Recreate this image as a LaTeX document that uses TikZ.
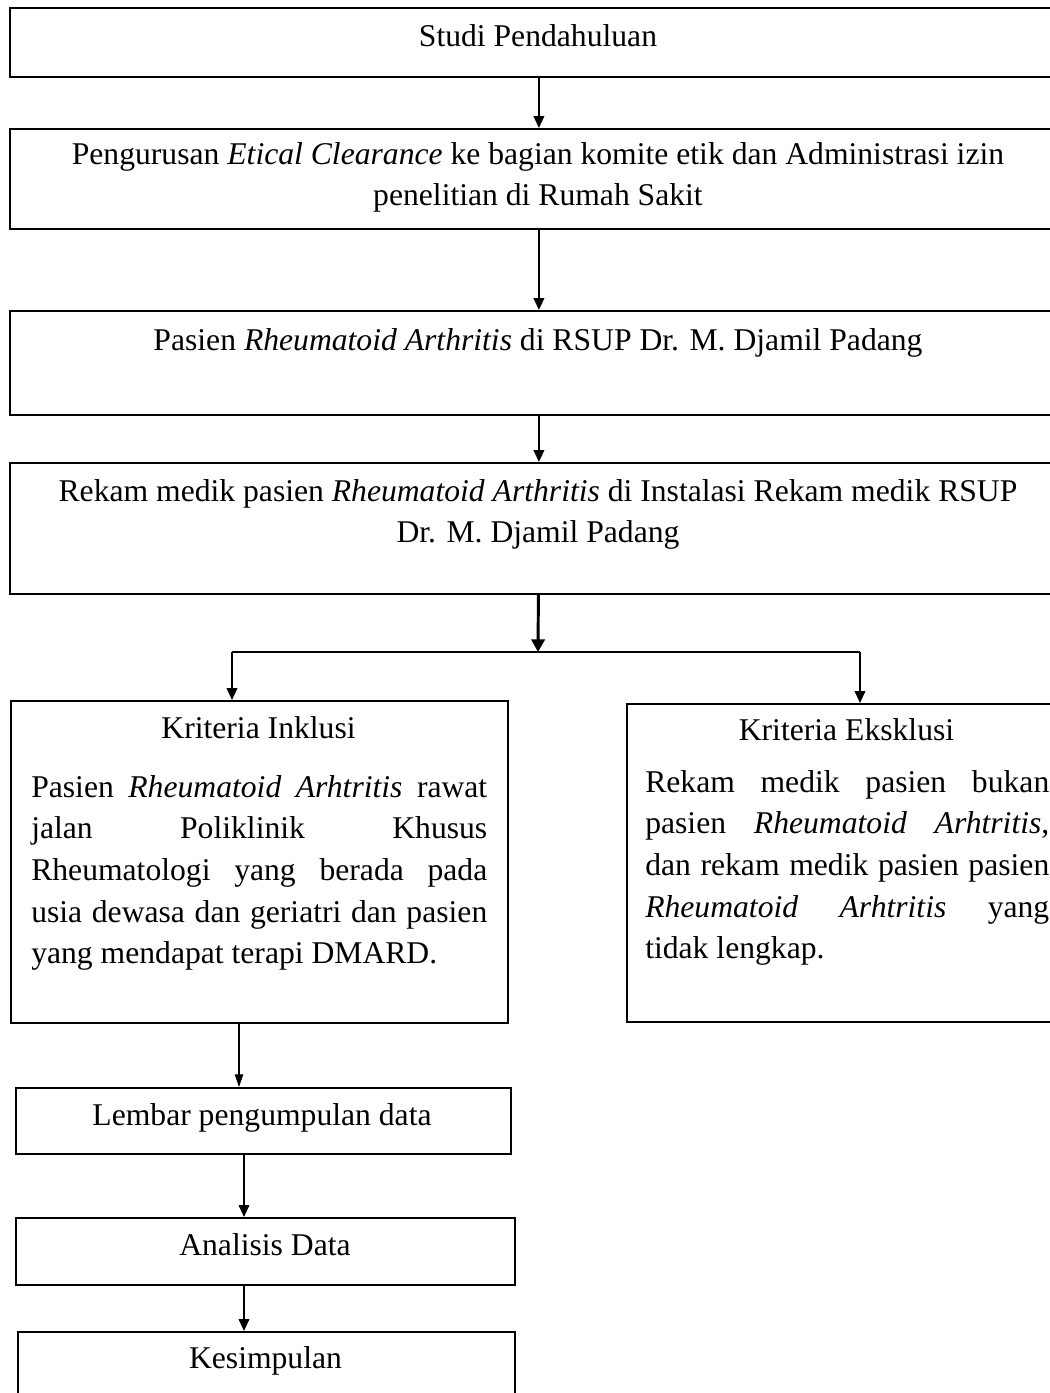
\documentclass[tikz,border=0pt]{standalone}
\usepackage{fontspec}
\setmainfont{Liberation Serif}
\usetikzlibrary{arrows.meta}

\tikzset{
  box/.style={draw, line width=1.3pt, inner sep=0pt, anchor=north west},
  txt/.style={inner sep=0pt, font=\fontsize{22.5}{29.6}\selectfont},
  para/.style={txt, align=justify, anchor=north west},
  arr/.style={line width=1.4pt, -{Triangle[length=8.5pt,width=7.5pt]}},
  arrthick/.style={line width=2.1pt, -{Triangle[length=9pt,width=9.5pt]}},
  arrthin/.style={line width=0.8pt, -{Triangle[length=9pt,width=6pt]}},
}

\begin{document}
\begin{tikzpicture}[x=0.025cm, y=-0.025cm]
   \def\u{0.025cm}
   \path[use as bounding box, fill=white] (0,0) rectangle (1050,1393);
   \clip (0,0) rectangle (1050,1393);

        % boxes
        \node[box, minimum width=1058*\u, minimum height=69*\u]  (studi)    at (9,7) {};
        \node[box, minimum width=1058*\u, minimum height=100*\u] (etik)     at (9,128) {};
        \node[box, minimum width=1058*\u, minimum height=104*\u] (pasien)   at (9,310) {};
        \node[box, minimum width=1058*\u, minimum height=131*\u] (rekam)    at (9,462) {};
        \node[box, minimum width=497*\u,  minimum height=322*\u] (inkl)     at (10,700) {};
        \node[box, minimum width=441*\u,  minimum height=318*\u] (eksk)     at (626,703) {};
        \node[box, minimum width=495*\u,  minimum height=66*\u]  (lembar)   at (15,1087) {};
        \node[box, minimum width=499*\u,  minimum height=67*\u]  (analisis) at (15,1217) {};
        \node[box, minimum width=497*\u,  minimum height=100*\u] (simpul)   at (17,1331) {};

        % labels
        \node[txt, anchor=base] (tstudi) at (538,47) {Studi Pendahuluan};
        \node[txt, anchor=north, align=center] (tetik) at (538,142)
          {Pengurusan \textit{Etical Clearance} ke bagian komite etik dan Administrasi izin\\
           penelitian di Rumah Sakit};
        \node[txt, anchor=base] (tpasien) at (538,350)
          {Pasien \textit{Rheumatoid Arthritis} di RSUP Dr. M. Djamil Padang};
        \node[txt, anchor=north, align=center] (trekam) at (538,479)
          {Rekam medik pasien \textit{Rheumatoid Arthritis} di Instalasi Rekam medik RSUP\\
           Dr. M. Djamil Padang};

        \node[txt, anchor=base] (hinkl) at (258.5,738) {Kriteria Inklusi};
        \node[para, text width=456*\u] (tinkl) at (31,775)
          {\hyphenpenalty=10000 Pasien \textit{Rheumatoid Arhtritis} rawat\linebreak
           jalan Poliklinik Khusus\linebreak
           Rheumatologi yang berada pada\linebreak
           usia dewasa dan geriatri dan pasien\linebreak
           yang mendapat terapi DMARD.};

        \node[txt, anchor=base] (heksk) at (846.5,740) {Kriteria Eksklusi};
        \node[para, text width=404*\u] (teksk) at (645,770)
          {\hyphenpenalty=10000 Rekam medik pasien bukan\linebreak
           pasien \textit{Rheumatoid Arhtritis},\linebreak
           dan rekam medik pasien pasien\linebreak
           \textit{Rheumatoid Arhtritis} yang\linebreak
           tidak lengkap.};

        \node[txt, anchor=base] (tlembar)   at (262,1125) {Lembar pengumpulan data};
        \node[txt, anchor=base] (tanalisis) at (265,1255) {Analisis Data};
        \node[txt, anchor=base] (tsimpul)   at (265.5,1368) {Kesimpulan};

        % branch points
        \coordinate (split)  at (538,652);
        \coordinate (splitL) at (232,652);
        \coordinate (splitR) at (860,652);
        \coordinate (xl) at (239,0);
        \coordinate (xm) at (244,0);

        % arrows
        \draw[arr] (studi) -- (etik);
        \draw[arr] (etik) -- (pasien);
        \draw[arr] (pasien) -- (rekam);
        \draw[arrthick] (rekam) -- (split);
        \draw[line width=1.4pt] (splitL) -- (splitR);
        \draw[arr] (splitL) -- (splitL |- inkl.north);
        \draw[arr] (splitR) -- (splitR |- eksk.north);
        \draw[arrthin] (inkl.south -| xl) -- (lembar.north -| xl);
        \draw[arr] (lembar.south -| xm) -- (analisis.north -| xm);
        \draw[arr] (analisis.south -| xm) -- (simpul.north -| xm);
\end{tikzpicture}
\end{document}
